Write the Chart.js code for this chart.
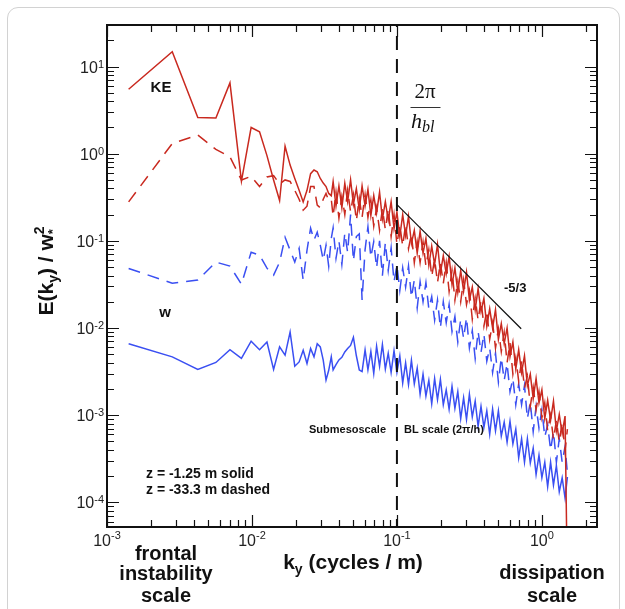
<!DOCTYPE html>
<html lang="en">
<head>
<meta charset="UTF-8">
<title>Energy spectra E(k_y)</title>
<script src="https://cdn.jsdelivr.net/npm/chart.js"></script>
<style>
  html, body { margin: 0; padding: 0; background: #fff; overflow: hidden; }
  #wrap { position: relative; width: 625px; height: 609px; overflow: hidden; }
  #box { position: absolute; left: 7px; top: 7px; width: 611px; height: 700px;
         border: 1.5px solid #d2d2d2; border-radius: 11px; }
  canvas { position: absolute; left: 0; top: 0; }
</style>
</head>
<body>
<div id="wrap"><div id="box"></div><canvas id="chart" width="625" height="609"></canvas></div>
<script>
// wavenumbers (cycles / m)
const kValues = [
  0.00141, 0.00282, 0.00423, 0.00564, 0.00705, 0.00846, 0.00987, 0.01128, 0.01269, 0.0141,
  0.01551, 0.01692, 0.01833, 0.01974, 0.02115, 0.02256, 0.02397, 0.02538, 0.02679, 0.0282,
  0.02961, 0.03102, 0.03243, 0.03384, 0.03525,
  0.0363, 0.0380, 0.0398, 0.0417, 0.0437, 0.0457, 0.0479, 0.0501, 0.0525, 0.0550,
  0.0575, 0.0603, 0.0631, 0.0661, 0.0692, 0.0724, 0.0759, 0.0794, 0.0832, 0.0871,
  0.0912, 0.0955, 0.100, 0.1047, 0.1096, 0.1148, 0.1202, 0.1259, 0.1318, 0.1380,
  0.1445, 0.1514, 0.1585, 0.1660, 0.1738, 0.1820, 0.1905, 0.1995, 0.2089, 0.2188,
  0.2291, 0.2399, 0.2512, 0.2630, 0.2754, 0.2884, 0.3020, 0.3162, 0.3311, 0.3467,
  0.3631, 0.3802, 0.3981, 0.4169, 0.4365, 0.4571, 0.4786, 0.5012, 0.5248, 0.5495,
  0.5754, 0.6026, 0.6310, 0.6607, 0.6918, 0.7244, 0.7586, 0.7943, 0.8318, 0.8710,
  0.9120, 0.9550, 1.000, 1.047, 1.096, 1.148, 1.202, 1.259, 1.318, 1.380,
  1.445, 1.500
];

// KE, z = -1.25 m (solid)
const keSolid = [
  5.5, 14.8, 2.61, 2.57, 6.5, 0.485, 2.0, 1.78, 0.95, 0.50,
  0.29, 1.22, 0.74, 0.52, 0.38, 0.28, 0.38, 0.59, 0.65, 0.62,
  0.52, 0.46, 0.42, 0.35, 0.33,
  0.479, 0.251, 0.427, 0.240, 0.457, 0.282, 0.501, 0.263, 0.398, 0.229,
  0.427, 0.251, 0.389, 0.195, 0.331, 0.209, 0.363, 0.178, 0.282, 0.174,
  0.282, 0.138, 0.214, 0.112, 0.200, 0.115, 0.191, 0.0933, 0.132, 0.0724,
  0.129, 0.0724, 0.107, 0.0525, 0.0871, 0.0537, 0.0912, 0.0427, 0.0676, 0.0417,
  0.0661, 0.0316, 0.0490, 0.0257, 0.0457, 0.0263, 0.0437, 0.0209, 0.0295, 0.0162,
  0.0282, 0.0155, 0.0219, 0.0105, 0.0166, 0.0100, 0.0162, 0.00741, 0.0112, 0.00661,
  0.0100, 0.00468, 0.00692, 0.00339, 0.00562, 0.00309, 0.00479, 0.00219, 0.00295, 0.00155,
  0.00263, 0.00138, 0.00195, 0.000912, 0.00148, 0.000871, 0.00145, 0.000661, 0.00102, 0.000617,
  0.000977, 0.00001
];

// KE, z = -33.3 m (dashed)
const keDashed = [
  0.28, 1.31, 1.64, 1.12, 0.92, 0.50, 0.55, 0.42, 0.54, 0.56,
  0.45, 0.50, 0.48, 0.38, 0.30, 0.225, 0.25, 0.42, 0.42, 0.257,
  0.24, 0.30, 0.35, 0.29, 0.30,
  0.191, 0.363, 0.182, 0.324, 0.200, 0.380, 0.214, 0.339, 0.170, 0.309,
  0.186, 0.339, 0.186, 0.295, 0.148, 0.240, 0.132, 0.234, 0.135, 0.234,
  0.112, 0.200, 0.0912, 0.151, 0.0871, 0.155, 0.0813, 0.120, 0.0562, 0.0977,
  0.0562, 0.0977, 0.0513, 0.0794, 0.0389, 0.0617, 0.0331, 0.0562, 0.0324, 0.0562,
  0.0263, 0.0457, 0.0209, 0.0347, 0.0200, 0.0355, 0.0186, 0.0269, 0.0126, 0.0219,
  0.0123, 0.0209, 0.0105, 0.0158, 0.00741, 0.0115, 0.00589, 0.00977, 0.00537, 0.00891,
  0.00398, 0.00676, 0.00295, 0.00457, 0.00245, 0.00417, 0.00204, 0.00282, 0.00126, 0.00209,
  0.00115, 0.00186, 0.000933, 0.00138, 0.000661, 0.00100, 0.000525, 0.000871, 0.000490, 0.000832,
  0.000389, 0.000692
];

// w, z = -1.25 m (solid)
const wSolid = [
  0.0066, 0.00466, 0.00334, 0.00402, 0.00564, 0.00447, 0.00705, 0.00564, 0.0069, 0.00334,
  0.00607, 0.00488, 0.0090, 0.00364, 0.00408, 0.00556, 0.00391, 0.00582, 0.00466, 0.0066,
  0.00607, 0.00427, 0.00252, 0.00327, 0.00466,
  0.0033, 0.0038, 0.0043, 0.0046, 0.0053, 0.0058, 0.0063, 0.0078, 0.0048, 0.0033,
  0.00316, 0.00562, 0.00331, 0.00537, 0.00302, 0.00617, 0.00363, 0.00646, 0.00339, 0.00513,
  0.00309, 0.00550, 0.00309, 0.00479, 0.00234, 0.00398, 0.00224, 0.00427, 0.00229, 0.00347,
  0.00174, 0.00295, 0.00166, 0.00251, 0.00135, 0.00263, 0.00151, 0.00257, 0.00132, 0.00195,
  0.00117, 0.00214, 0.00120, 0.00186, 0.000912, 0.00158, 0.000891, 0.00174, 0.000955, 0.00145,
  0.000741, 0.00126, 0.000724, 0.00112, 0.000603, 0.00117, 0.000661, 0.00112, 0.000575, 0.000832,
  0.000490, 0.000851, 0.000468, 0.000692, 0.000324, 0.000537, 0.000288, 0.000537, 0.000282, 0.000417,
  0.000209, 0.000347, 0.000191, 0.000288, 0.000151, 0.000288, 0.000158, 0.000263, 0.000132, 0.000191,
  0.000112, 0.000195
];

// w, z = -33.3 m (dashed)
const wDashed = [
  0.0482, 0.0327, 0.0355, 0.057, 0.0513, 0.0318, 0.0741, 0.0685, 0.0486, 0.0404,
  0.0569, 0.110, 0.078, 0.057, 0.082, 0.0354, 0.078, 0.140, 0.102, 0.126,
  0.0893, 0.060, 0.089, 0.0513, 0.107,
  0.141, 0.0631, 0.100, 0.0537, 0.123, 0.0741, 0.200, 0.0589, 0.112, 0.120,
  0.021, 0.0794, 0.145, 0.0646, 0.0977, 0.0490, 0.100, 0.0398, 0.0955, 0.0457,
  0.0832, 0.0339, 0.0525, 0.0269, 0.0490, 0.0295, 0.0513, 0.0224, 0.0355, 0.0170,
  0.0339, 0.0200, 0.0331, 0.0166, 0.0229, 0.0123, 0.0209, 0.0100, 0.0200, 0.0115,
  0.0186, 0.00912, 0.0135, 0.00692, 0.0126, 0.00759, 0.0132, 0.00589, 0.00933, 0.00447,
  0.00912, 0.00525, 0.00851, 0.00417, 0.00589, 0.00309, 0.00513, 0.00240, 0.00457, 0.00251,
  0.00389, 0.00186, 0.00263, 0.00132, 0.00229, 0.00132, 0.00219, 0.000912, 0.00141, 0.000646,
  0.00126, 0.000708, 0.00115, 0.000562, 0.000776, 0.000398, 0.000646, 0.000288, 0.000537, 0.000288,
  0.000437, 0.000214
];

// 2*pi/h_bl marker and -5/3 reference slope
const blLineX = [0.1, 0.1];
const blLineY = [30, 5.2e-5];
const slopeX = [0.1, 0.72];
const slopeY = [0.26, 0.0098];

// decade labels
const xTickExps = [-3, -2, -1, 0];
const yTickExps = [1, 0, -1, -2, -3, -4];

const SANS = '"Liberation Sans", Arial, Helvetica, sans-serif';
const SERIF = '"Liberation Serif", "Times New Roman", serif';
const RED = '#c9291f';
const BLUE = '#3a4ff2';

const pts = (xs, ys) => ys.map((v, i) => ({ x: xs[i], y: v }));
const series = (data, color, dash, width, offset) => ({
  data, borderColor: color, borderWidth: width, borderDash: dash, borderDashOffset: offset || 0,
  pointRadius: 0, tension: 0, fill: false
});

function f(size, bold, family, italic) {
  return (italic ? 'italic ' : '') + (bold ? 'bold ' : '') + size + 'px ' + (family || SANS);
}

// draw runs of text (for sub/superscripts) starting/centred at x
function drawRuns(ctx, runs, x, y, align) {
  let total = 0;
  for (const r of runs) { ctx.font = r.f; r.w = ctx.measureText(r.t).width; if (!r.hold) total += r.w; }
  let cx = align === 'center' ? x - total / 2 : align === 'right' ? x - total : x;
  ctx.textAlign = 'left';
  ctx.textBaseline = 'alphabetic';
  for (const r of runs) {
    ctx.font = r.f;
    ctx.fillText(r.t, cx, y + (r.dy || 0));
    if (!r.hold) cx += r.w;
  }
}

const axesPlugin = {
  id: 'axesPlugin',
  afterDatasetsDraw(chart) {
    const { ctx, chartArea: a, scales: { x, y } } = chart;
    ctx.save();
    ctx.strokeStyle = '#111';
    ctx.lineWidth = 1.2;
    ctx.beginPath();
    // inward ticks on all four sides
    for (let d = -3; d <= 0; d++) {
      for (let m = 1; m <= 9; m++) {
        const v = m * Math.pow(10, d);
        if (v < x.min || v > x.max) continue;
        const px = Math.round(x.getPixelForValue(v)) + 0.5;
        const len = m === 1 ? 12 : 7;
        ctx.moveTo(px, a.bottom); ctx.lineTo(px, a.bottom - len);
        ctx.moveTo(px, a.top); ctx.lineTo(px, a.top + len);
      }
    }
    for (let d = -5; d <= 1; d++) {
      for (let m = 1; m <= 9; m++) {
        const v = m * Math.pow(10, d);
        if (v < y.min || v > y.max) continue;
        const py = Math.round(y.getPixelForValue(v)) + 0.5;
        const len = m === 1 ? 12 : 7;
        ctx.moveTo(a.left, py); ctx.lineTo(a.left + len, py);
        ctx.moveTo(a.right, py); ctx.lineTo(a.right - len, py);
      }
    }
    ctx.stroke();
    ctx.lineWidth = 2;
    ctx.strokeRect(a.left, a.top, a.right - a.left, a.bottom - a.top);

    // tick labels
    ctx.fillStyle = '#222';
    for (const e of yTickExps) {
      const py = y.getPixelForValue(Math.pow(10, e));
      drawRuns(ctx, [{ t: '10', f: f(16) }, { t: String(e), f: f(11), dy: -5 }], a.left - 3, py + 6, 'right');
    }
    for (const e of xTickExps) {
      const px = x.getPixelForValue(Math.pow(10, e));
      drawRuns(ctx, [{ t: '10', f: f(16) }, { t: String(e), f: f(11), dy: -7 }], px, a.bottom + 19, 'center');
    }

    // axis titles
    ctx.fillStyle = '#111';
    drawRuns(ctx, [
      { t: 'k', f: f(21, true) }, { t: 'y', f: f(14, true), dy: 5 },
      { t: ' (cycles / m)', f: f(21, true) }
    ], 353, 569, 'center');
    ctx.save();
    ctx.translate(53, 271);
    ctx.rotate(-Math.PI / 2);
    drawRuns(ctx, [
      { t: 'E(k', f: f(21, true) }, { t: 'y', f: f(14, true), dy: 5 },
      { t: ') / w', f: f(21, true) }, { t: '*', f: f(13, true), dy: 4, hold: true },
      { t: '2', f: f(14, true), dy: -9 }
    ], 0, 0, 'center');
    ctx.restore();

    // scale notes under the axis
    ctx.textAlign = 'center';
    ctx.font = f(20, true);
    ctx.fillText('frontal', 166, 560);
    ctx.fillText('instability', 166, 580);
    ctx.fillText('scale', 166, 602);
    ctx.fillText('dissipation', 552, 579);
    ctx.fillText('scale', 552, 602);

    // annotations inside the plot
    ctx.font = f(15, true);
    ctx.fillText('KE', 161, 92);
    ctx.fillText('w', 165, 317);
    ctx.textAlign = 'left';
    ctx.font = f(14, true);
    ctx.fillText('z = -1.25 m solid', 146, 478);
    ctx.fillText('z = -33.3 m dashed', 146, 494);
    ctx.font = f(11, true);
    ctx.textAlign = 'right';
    ctx.fillText('Submesoscale', 386, 433);
    ctx.textAlign = 'left';
    ctx.fillText('BL scale (2\u03c0/h)', 404, 433);
    ctx.font = f(13, true);
    ctx.fillText('-5/3', 504, 292);

    // 2pi / h_bl
    ctx.textAlign = 'center';
    ctx.font = f(21, false, SERIF);
    ctx.fillText('2\u03c0', 425, 98);
    ctx.lineWidth = 1;
    ctx.strokeStyle = '#333';
    ctx.beginPath(); ctx.moveTo(410.5, 107.5); ctx.lineTo(440.5, 107.5); ctx.stroke();
    drawRuns(ctx, [
      { t: 'h', f: f(22, false, SERIF, true) },
      { t: 'bl', f: f(16, false, SERIF, true), dy: 4 }
    ], 411, 128, 'left');
    ctx.restore();
  }
};

new Chart(document.getElementById('chart'), {
  type: 'line',
  data: {
    datasets: [
      series(pts(blLineX, blLineY), '#111', [14, 9], 2, 12),
      series(pts(slopeX, slopeY), '#111', [], 1.2),
      series(pts(kValues, keSolid), RED, [], 1.5),
      series(pts(kValues, keDashed), RED, [12, 8], 1.5),
      series(pts(kValues, wSolid), BLUE, [], 1.5),
      series(pts(kValues, wDashed), BLUE, [12, 8], 1.5)
    ]
  },
  options: {
    responsive: false,
    devicePixelRatio: 1,
    animation: false,
    layout: { padding: { top: 25, right: 28, left: 0, bottom: 0 } },
    plugins: { legend: { display: false }, tooltip: { enabled: false } },
    scales: {
      x: {
        type: 'logarithmic', min: 0.001, max: 2.4,
        grid: { display: false }, border: { display: false }, ticks: { display: false },
        afterFit(s) { s.height = 82; }
      },
      y: {
        type: 'logarithmic', min: 5.2e-5, max: 30,
        grid: { display: false }, border: { display: false }, ticks: { display: false },
        afterFit(s) { s.width = 107; }
      }
    }
  },
  plugins: [axesPlugin]
});
</script>
</body>
</html>
